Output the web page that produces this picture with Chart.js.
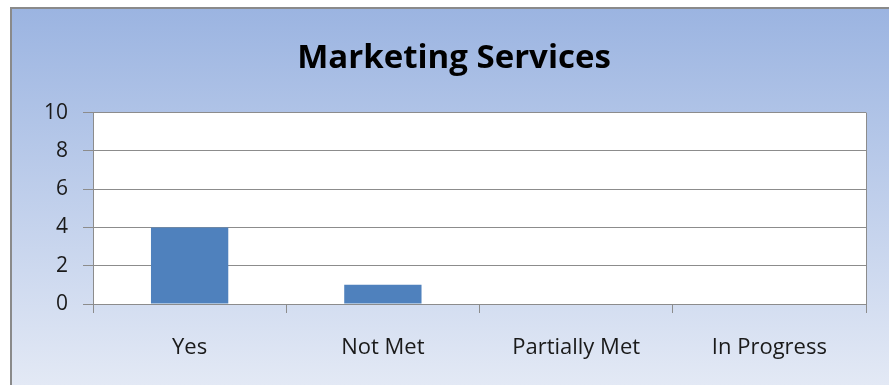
<!DOCTYPE html>
<html lang="en">
<head>
    <meta charset="UTF-8">
    <title>Marketing Services</title>
    <style>
        html, body { margin: 0; padding: 0; background: #ffffff; }
        #wrap { width: 889px; height: 385px; position: relative; }
    </style>
</head>
<body>
    <div id="wrap"><canvas id="chart"></canvas></div>

    <script src="https://cdn.jsdelivr.net/npm/chart.js"></script>
    <script>
        // Survey outcome counts
        const categories = ['Yes', 'Not Met', 'Partially Met', 'In Progress'];
        const counts = [4, 1, 0, 0];
        const yMin = 0, yMax = 10, yStep = 2;

        const FONT = "'Open Sans', 'Noto Sans', sans-serif";
        const GRID = '#8c8c8c';

        // Paints the blue panel and the white plotting area behind everything
        const panel = {
            id: 'panel',
            beforeDraw(chart) {
                const { ctx, width, height, chartArea: a } = chart;
                ctx.save();
                ctx.fillStyle = '#ffffff';
                ctx.fillRect(0, 0, width, height);
                const g = ctx.createLinearGradient(0, 8, 0, height);
                g.addColorStop(0, '#9bb4e1');
                g.addColorStop(1, '#e3e9f5');
                ctx.fillStyle = g;
                ctx.fillRect(11, 8, width - 11, height - 8);
                ctx.strokeStyle = '#8a8a8a';
                ctx.lineWidth = 2;
                ctx.strokeRect(11, 8, width + 10, height + 10);
                ctx.fillStyle = '#ffffff';
                ctx.fillRect(a.left, a.top, a.right - a.left, a.bottom - a.top);
                ctx.restore();
            },
            afterDatasetsDraw(chart) {
                const { ctx, chartArea: a } = chart;
                ctx.save();
                ctx.strokeStyle = GRID;
                ctx.lineWidth = 1;
                ctx.beginPath();
                ctx.moveTo(Math.round(a.right) + 0.5, a.top);
                ctx.lineTo(Math.round(a.right) + 0.5, a.bottom);
                ctx.stroke();
                ctx.restore();
            }
        };

        new Chart(document.getElementById('chart'), {
            type: 'bar',
            data: {
                labels: categories,
                datasets: [{
                    data: counts,
                    backgroundColor: '#4f81bd',
                    borderWidth: 0,
                    categoryPercentage: 1,
                    barPercentage: 0.4
                }]
            },
            options: {
                responsive: true,
                maintainAspectRatio: false,
                animation: false,
                layout: { padding: { top: 0, right: 0, bottom: 0, left: 19 } },
                plugins: {
                    legend: { display: false },
                    tooltip: { enabled: false },
                    title: {
                        display: true,
                        text: 'Marketing Services',
                        color: '#000000',
                        font: { family: FONT, size: 33, weight: 'bold' },
                        padding: { top: 39, bottom: 34 }
                    }
                },
                scales: {
                    x: {
                        grid: {
                            display: true,
                            drawOnChartArea: false,
                            offset: true,
                            tickLength: 9,
                            color: GRID
                        },
                        border: { color: GRID },
                        ticks: {
                            color: '#1a1a1a',
                            font: { family: FONT, size: 22 },
                            padding: 22
                        },
                        afterFit(scale) { scale.height = 81; }
                    },
                    y: {
                        min: yMin,
                        max: yMax,
                        grid: { color: GRID, tickLength: 10 },
                        border: { color: GRID },
                        ticks: {
                            stepSize: yStep,
                            color: '#1a1a1a',
                            font: { family: FONT, size: 21 },
                            padding: 15
                        },
                        afterFit(scale) { scale.width = 74; }
                    },
                    // empty right-hand strip so the title centres on the whole panel
                    pad: {
                        position: 'right',
                        grid: { display: false },
                        border: { display: false },
                        ticks: { display: false },
                        afterFit(scale) { scale.width = 23; }
                    }
                }
            },
            plugins: [panel]
        });
    </script>
</body>
</html>
